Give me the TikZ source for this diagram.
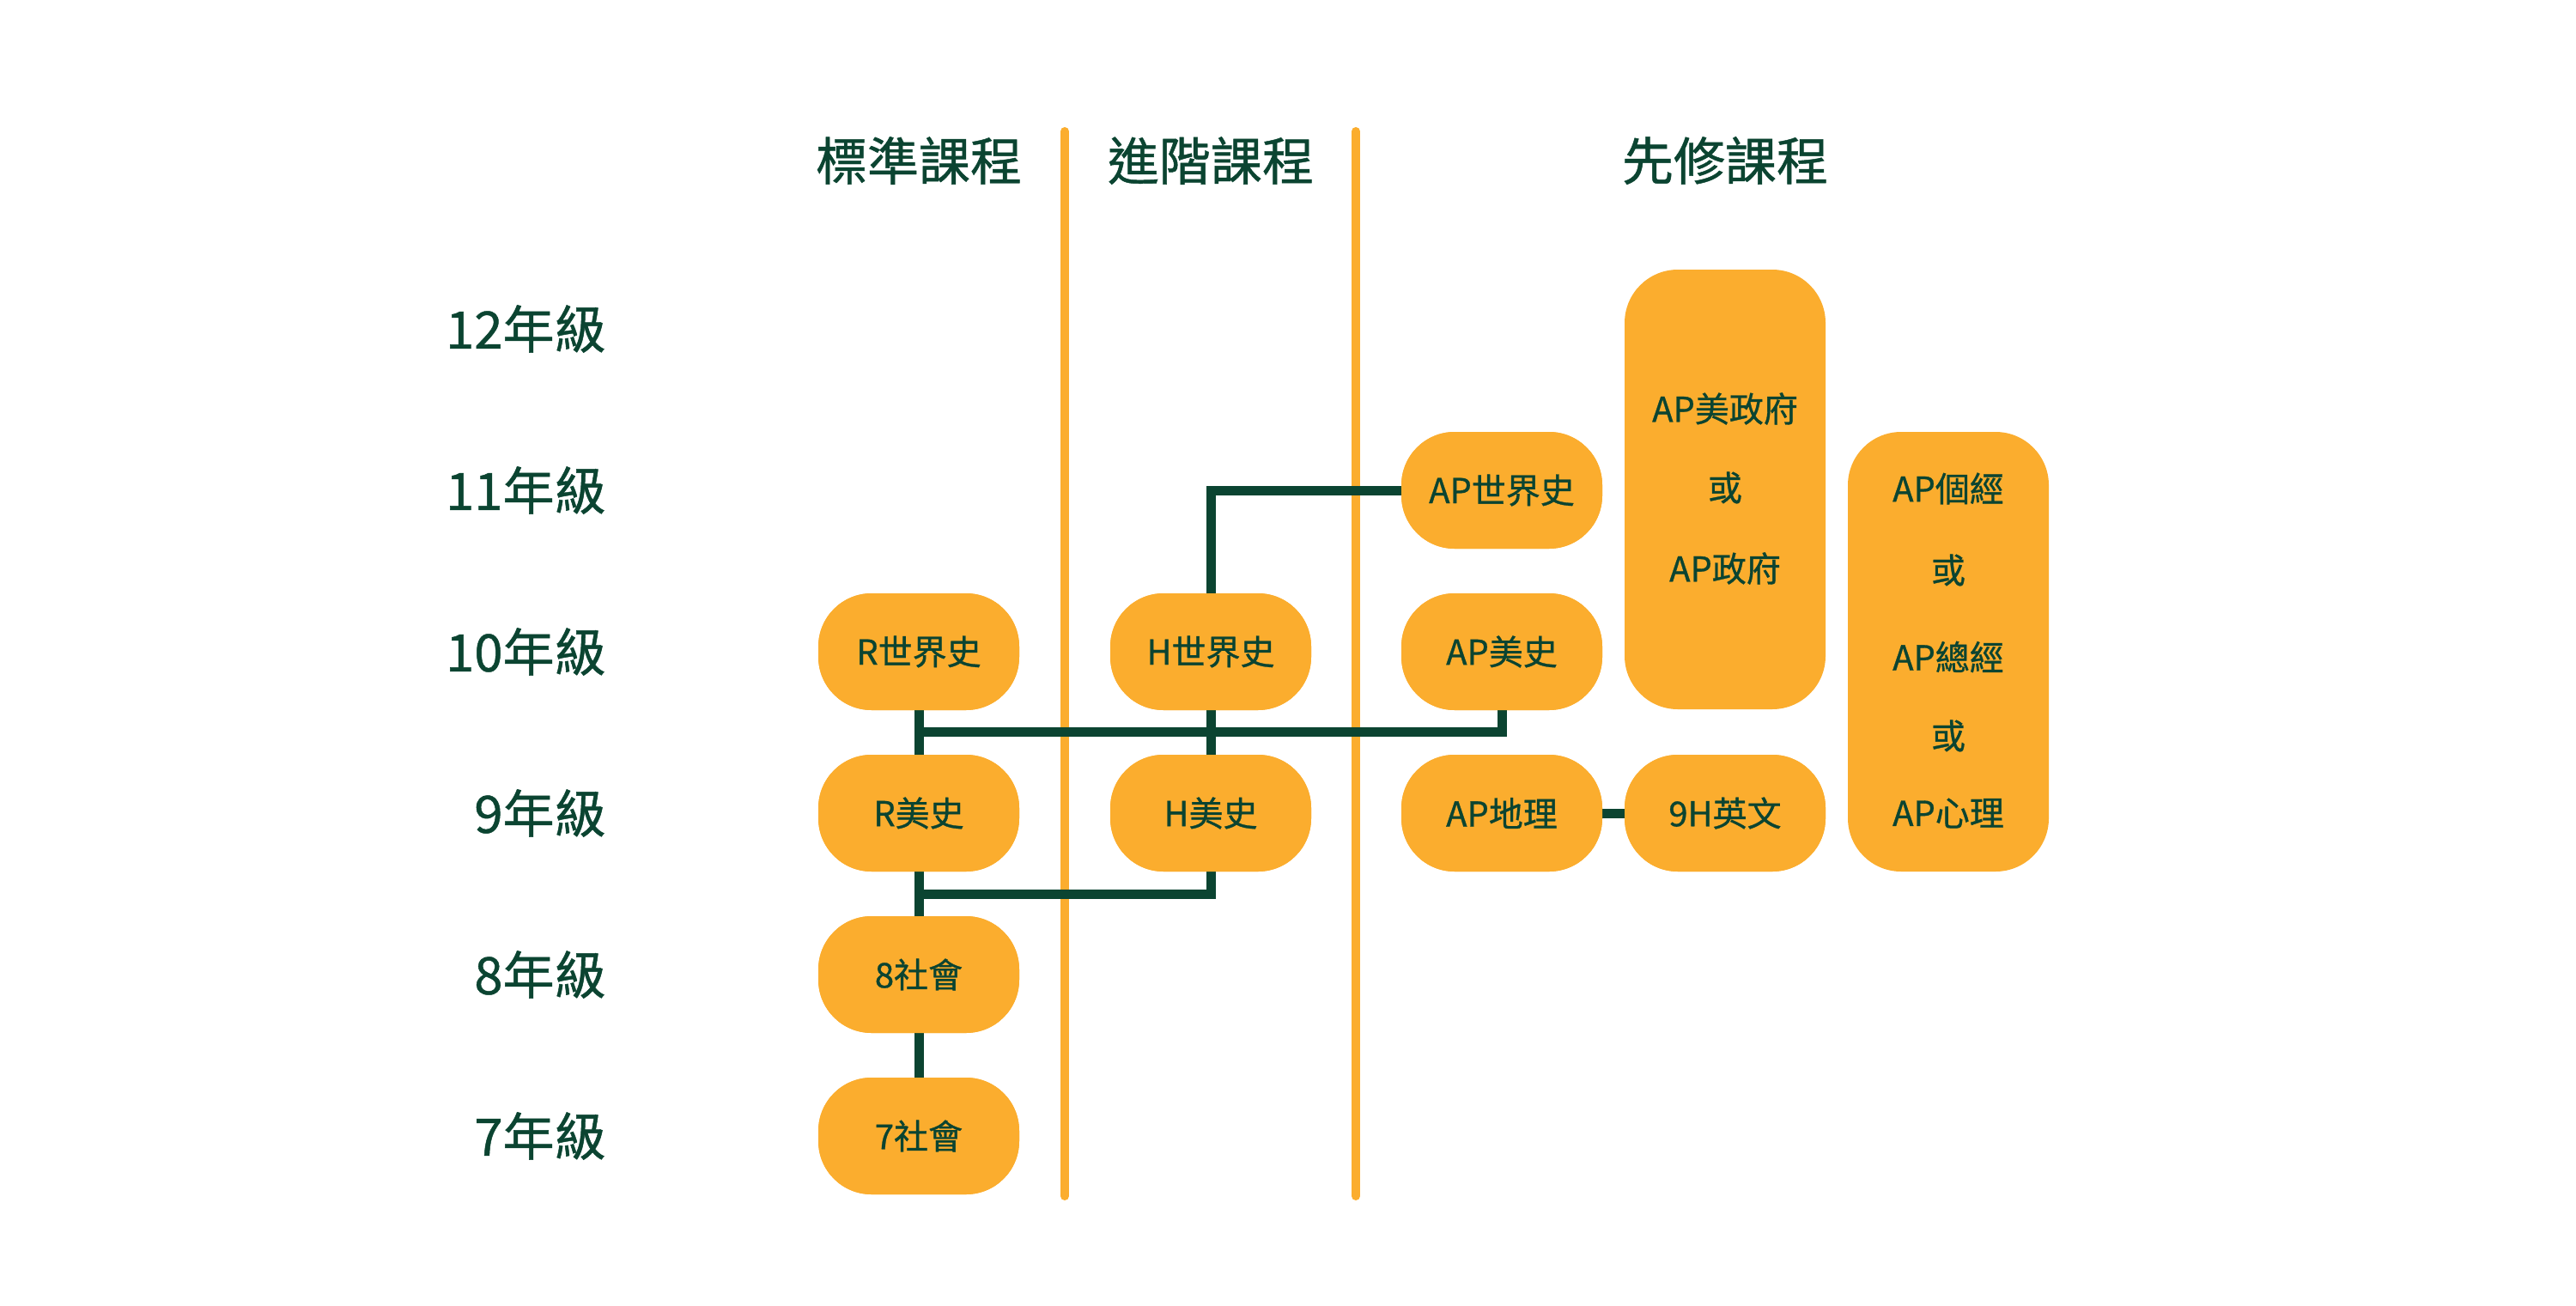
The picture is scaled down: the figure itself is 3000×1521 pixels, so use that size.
\documentclass[tikz,border=0pt]{standalone}
\usepackage{fontspec}
\newfontfamily\cjk{Noto Sans CJK TC}[FakeBold=0.8]
\definecolor{orng}{HTML}{FBAD2E}
\definecolor{dgreen}{HTML}{0B4431}
\tikzset{
  course/.style={fill=orng, draw=none, rounded corners=31pt, minimum width=117pt, minimum height=68pt, inner sep=0pt, text=dgreen, font=\cjk\fontsize{20pt}{24pt}\selectfont},
  tallbox/.style={fill=orng, draw=none, rounded corners=31pt, minimum width=117pt, minimum height=256pt, inner sep=0pt},
  boxtext/.style={inner sep=0pt, text=dgreen, font=\cjk\fontsize{20pt}{24pt}\selectfont},
  header/.style={inner sep=0pt, text=dgreen, font=\cjk\fontsize{30pt}{36pt}\selectfont},
  grade/.style={inner sep=0pt, anchor=east, text=dgreen, font=\cjk\fontsize{30pt}{36pt}\selectfont},
  divider/.style={draw=orng, line width=5pt, line cap=round},
  link/.style={draw=dgreen, line width=5.5pt},
}
\begin{document}
\begin{tikzpicture}[x=0.5pt, y=-0.5pt]
\useasboundingbox (0,0) rectangle (3000,1521);
% dividers
\coordinate (d1t) at (1240,153);
\coordinate (d1b) at (1240,1393);
\coordinate (d2t) at (1579,153);
\coordinate (d2b) at (1579,1393);
\draw[divider] (d1t) -- (d1b);
\draw[divider] (d2t) -- (d2b);
% headers
\node[header] (h1) at (1070,187) {標準課程};
\node[header] (h2) at (1410,187) {進階課程};
\node[header] (h3) at (2009,187) {先修課程};
% grade labels
\node[grade] (g12) at (706,383) {12年級};
\node[grade] (g11) at (706,571) {11年級};
\node[grade] (g10) at (706,759) {10年級};
\node[grade] (g9) at (706,947) {9年級};
\node[grade] (g8) at (706,1135) {8年級};
\node[grade] (g7) at (706,1323) {7年級};
% junction coordinates
\coordinate (j1) at (1070,852);
\coordinate (j2) at (1070,1041);
% nodes (placed first for anchors; drawn again on top below)
\path
  (1070,759) node[course] (Rworld) {R世界史}
  (1070,947) node[course] (Rus) {R美史}
  (1070,1135) node[course] (soc8) {8社會}
  (1070,1323) node[course] (soc7) {7社會}
  (1410,759) node[course] (Hworld) {H世界史}
  (1410,947) node[course] (Hus) {H美史}
  (1749,571) node[course] (APworld) {AP世界史}
  (1749,759) node[course] (APus) {AP美史}
  (1749,947) node[course] (APgeo) {AP地理}
  (2009,947) node[course] (Heng) {9H英文};
% connectors
\draw[link] (Rworld.south) -- (Rus.north);
\draw[link] (APus.south) |- (j1);
\draw[link] (Hworld.south) -- (Hus.north);
\draw[link] (Hworld.north) |- (APworld.west);
\draw[link] (Rus.south) -- (soc8.north);
\draw[link] (Hus.south) |- (j2);
\draw[link] (soc8.south) -- (soc7.north);
\draw[link] (APgeo.east) -- (Heng.west);
% redraw nodes on top
\path
  (1070,759) node[course] {R世界史}
  (1070,947) node[course] {R美史}
  (1070,1135) node[course] {8社會}
  (1070,1323) node[course] {7社會}
  (1410,759) node[course] {H世界史}
  (1410,947) node[course] {H美史}
  (1749,571) node[course] {AP世界史}
  (1749,759) node[course] {AP美史}
  (1749,947) node[course] {AP地理}
  (2009,947) node[course] {9H英文};
% tall boxes
\node[tallbox] (gov) at (2009,570) {};
\node[boxtext] (gov1) at (2009,476) {AP美政府};
\node[boxtext] (gov2) at (2009,568) {或};
\node[boxtext] (gov3) at (2009,662) {AP政府};
\node[tallbox] (econ) at (2269,759) {};
\node[boxtext] (econ1) at (2269,569) {AP個經};
\node[boxtext] (econ2) at (2269,664) {或};
\node[boxtext] (econ3) at (2269,765) {AP總經};
\node[boxtext] (econ4) at (2269,857) {或};
\node[boxtext] (econ5) at (2269,947) {AP心理};
\end{tikzpicture}
\end{document}
